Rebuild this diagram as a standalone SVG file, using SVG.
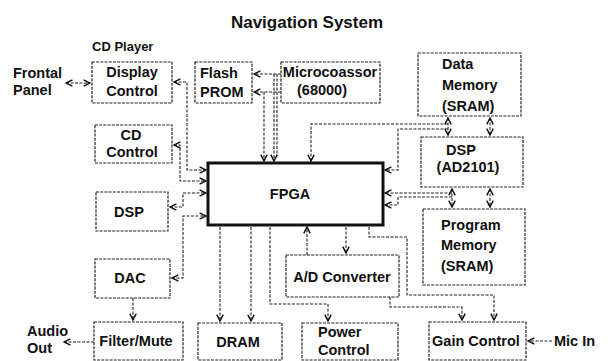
<svg xmlns="http://www.w3.org/2000/svg" width="614" height="361" viewBox="0 0 614 361">
<defs>
<style>
.t{font-family:"Liberation Sans",Arial,sans-serif;font-weight:bold;font-size:14.5px;fill:#111}
.c{text-anchor:middle}
.b{fill:none;stroke:#222;stroke-width:1.2;stroke-dasharray:3 1.2}
.w{fill:none;stroke:#222;stroke-width:1.1;stroke-dasharray:3 1.5}
.ar{marker-end:url(#ah)}
.ab{marker-start:url(#ah);marker-end:url(#ah)}
</style>
<marker id="ah" viewBox="0 0 10 10" refX="9" refY="5" markerWidth="8" markerHeight="8" orient="auto-start-reverse" markerUnits="userSpaceOnUse"><path d="M1,1 L9,5 L1,9" fill="none" stroke="#111" stroke-width="1.8"/></marker>
</defs>
<rect width="614" height="361" fill="#fff"/>
<text class="t c" x="307" y="28" style="font-size:17px">Navigation System</text>
<text class="t" x="92" y="51" style="font-size:13px">CD Player</text>
<text class="t" x="13" y="78">Frontal</text>
<text class="t" x="13" y="95">Panel</text>
<text class="t" x="27" y="336">Audio</text>
<text class="t" x="27" y="353">Out</text>
<text class="t" x="554" y="346">Mic In</text>

<g id="display-control"><rect class="b" x="92" y="62" width="80" height="41"/><text class="t c" x="132" y="77">Display</text><text class="t c" x="132" y="96">Control</text></g>
<g id="flash-prom"><rect class="b" x="195" y="62" width="57" height="41"/><text class="t" x="200" y="78">Flash</text><text class="t" x="200" y="97">PROM</text></g>
<g id="microprocessor"><rect class="b" x="281" y="62" width="99" height="41"/><text class="t c" x="330" y="77">Microcoassor</text><text class="t c" x="322" y="95">(68000)</text></g>
<g id="data-memory"><rect class="b" x="418" y="53" width="103" height="63"/><text class="t" x="442" y="69">Data</text><text class="t" x="442" y="90">Memory</text><text class="t" x="442" y="111">(SRAM)</text></g>
<g id="cd-control"><rect class="b" x="95" y="125" width="77" height="38"/><text class="t c" x="131" y="140">CD</text><text class="t c" x="132" y="157">Control</text></g>
<g id="dsp-ad2101"><rect class="b" x="421" y="137" width="102" height="50"/><text class="t c" x="461" y="155">DSP</text><text class="t c" x="468" y="172">(AD2101)</text></g>
<g id="fpga"><rect x="208" y="163" width="175" height="62" fill="none" stroke="#111" stroke-width="3"/><text class="t c" x="290" y="199">FPGA</text></g>
<g id="dsp"><rect class="b" x="96" y="192" width="72" height="39"/><text class="t c" x="129" y="217">DSP</text></g>
<g id="program-memory"><rect class="b" x="423" y="209" width="102" height="76"/><text class="t" x="441" y="230">Program</text><text class="t" x="441" y="250">Memory</text><text class="t" x="441" y="271">(SRAM)</text></g>
<g id="ad-converter"><rect class="b" x="286" y="255" width="113" height="42"/><text class="t c" x="342" y="282">A/D Converter</text></g>
<g id="dac"><rect class="b" x="95" y="259" width="75" height="39"/><text class="t c" x="130" y="283">DAC</text></g>
<g id="filter-mute"><rect class="b" x="94" y="322" width="89" height="38"/><text class="t c" x="136" y="346">Filter/Mute</text></g>
<g id="dram"><rect class="b" x="198" y="323" width="84" height="37"/><text class="t c" x="238" y="347">DRAM</text></g>
<g id="power-control"><rect class="b" x="302" y="323" width="96" height="37"/><text class="t" x="318" y="337">Power</text><text class="t" x="318" y="355">Control</text></g>
<g id="gain-control"><rect class="b" x="429" y="322" width="97" height="38"/><text class="t c" x="476" y="346">Gain Control</text></g>

<g id="connectors">
<path class="w ab" d="M66,83 H90"/>
<path class="w ab" d="M174,82 H187 V170 H206"/>
<path class="w ab" d="M174,145 H180 V181 H206"/>
<path class="w ab" d="M170,207 H183 V193 H206"/>
<path class="w ab" d="M172,278 H183 V216 H206"/>
<path class="w ar" d="M133,298 V320"/>
<path class="w ar" d="M94,342 H64"/>
<path class="w ar" d="M281,74 H254"/>
<path class="w ar" d="M281,92 H254"/>
<path class="w ar" d="M264,92 V161"/>
<path class="w ar" d="M274,74 V161"/>
<path class="w" d="M277,74 V156"/>
<path class="w ar" d="M448,124 H311 V161"/>
<path class="w ar" d="M448,129 H398 V170 H385"/>
<path class="w ab" d="M448,118 V135"/>
<path class="w ab" d="M490,118 V135"/>
<path class="w ar" d="M452,193 H385"/>
<path class="w ar" d="M452,197 H398 V205 H385"/>
<path class="w ab" d="M452,189 V207"/>
<path class="w ab" d="M490,189 V207"/>
<path class="w ar" d="M220,227 V321"/>
<path class="w ar" d="M251,227 V321"/>
<path class="w ar" d="M270,227 V304 H328 V321"/>
<path class="w ar" d="M307,255 V227"/>
<path class="w ar" d="M346,227 V253"/>
<path class="w ar" d="M369,227 V237 H407 V295 H494 V320"/>
<path class="w ar" d="M390,297 V307 H462 V320"/>
<path class="w ar" d="M552,341 H528"/>
</g>
</svg>
